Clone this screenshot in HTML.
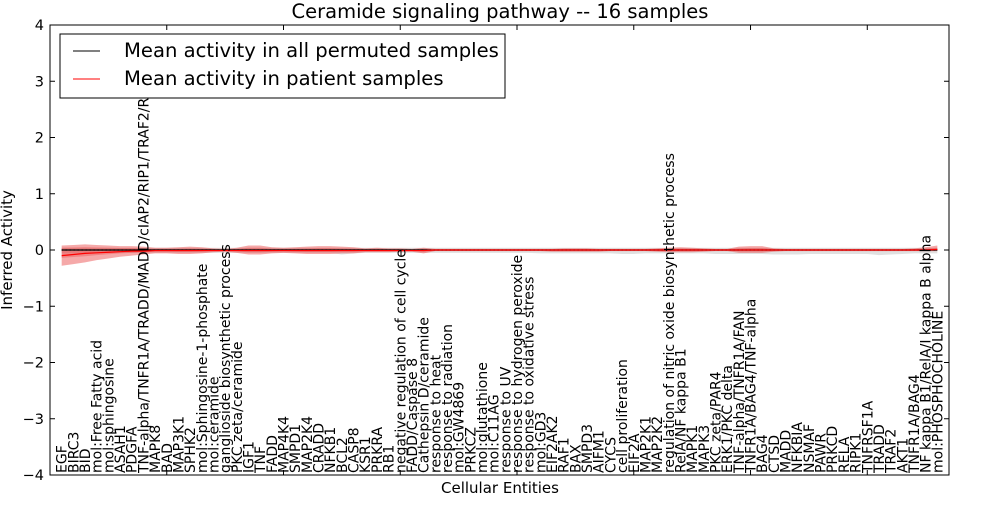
<!DOCTYPE html>
<html><head><meta charset="utf-8"><style>
body{margin:0;background:#fff;}
svg text{font-family:"DejaVu Sans","Liberation Sans",sans-serif;}
</style></head><body>
<svg id="chart" width="1000" height="500" xmlns="http://www.w3.org/2000/svg"></svg>
<script>
const categories=["EGF","BIRC3","BID","mol:Free Fatty acid","mol:sphingosine","ASAH1","PDGFA","TNF-alpha/TNFR1A/TRADD/MADD/cIAP2/RIP1/TRAF2/R","MAPK8","BAD","MAP3K1","SPHK2","mol:Sphingosine-1-phosphate","mol:ceramide","ganglioside biosynthetic process","PKC zeta/ceramide","IGF1","TNF","FADD","MAP4K4","SMPD1","MAP2K4","CRADD","NFKB1","BCL2","CASP8","KSR1","PRKRA","RB1","negative regulation of cell cycle","FADD/Caspase 8","Cathepsin D/ceramide","response to heat","response to radiation","mol:GW4869","PRKCZ","mol:glutathione","mol:C11AG","response to UV","response to hydrogen peroxide","response to oxidative stress","mol:GD3","EIF2AK2","RAF1","BAX","SMPD3","AIFM1","CYCS","cell proliferation","EIF2A","MAP2K1","MAP2K2","regulation of nitric oxide biosynthetic process","RelA/NF kappa B1","MAPK1","MAPK3","PKC zeta/PAR4","ERK1/PKC delta","TNF-alpha/TNFR1A/FAN","TNFR1A/BAG4/TNF-alpha","BAG4","CTSD","MADD","NFKBIA","NSMAF","PAWR","PRKCD","RELA","RIPK1","TNFRSF1A","TRADD","TRAF2","AKT1","TNFR1A/BAG4","NF kappa B1/RelA/I kappa B alpha","mol:PHOSPHOCHOLINE"];
const patientMean=[-0.1,-0.08,-0.06,-0.05,-0.04,-0.03,-0.02,-0.02,-0.01,-0.01,-0.01,-0.01,-0.01,-0.01,-0.01,-0.01,-0.01,-0.01,-0.01,-0.01,-0.01,-0.01,-0.01,-0.01,-0.01,-0.01,-0.01,-0.01,-0.01,-0.01,-0.01,-0.01,0,0,0,0,0,0,0,0,0,0,0,0,0,0,0,0,0,0,0,0,0,0,0,0,0,0,0,0,0,0,0,0,0,0,0,0,0,0,0,0,0,0,0,0.01];
const permMean=new Array(76).fill(0);
const redUpper=[0.08,0.09,0.1,0.09,0.08,0.07,0.07,0.06,0.04,0.04,0.05,0.06,0.05,0.03,0.02,0.04,0.08,0.08,0.05,0.04,0.05,0.06,0.07,0.07,0.06,0.05,0.03,0.04,0.03,0.03,0.02,0.04,0.02,0.02,0.02,0.02,0.02,0.02,0.02,0.02,0.02,0.02,0.02,0.03,0.03,0.03,0.02,0.02,0.02,0.02,0.02,0.03,0.04,0.05,0.04,0.03,0.02,0.02,0.06,0.07,0.07,0.03,0.02,0.02,0.02,0.02,0.02,0.02,0.02,0.02,0.02,0.02,0.02,0.03,0.05,0.08];
const redLower=[-0.28,-0.25,-0.22,-0.18,-0.15,-0.12,-0.1,-0.08,-0.06,-0.06,-0.07,-0.07,-0.06,-0.04,-0.03,-0.05,-0.08,-0.08,-0.06,-0.05,-0.06,-0.07,-0.07,-0.07,-0.06,-0.06,-0.04,-0.04,-0.04,-0.03,-0.03,-0.06,-0.02,-0.02,-0.02,-0.02,-0.02,-0.02,-0.02,-0.02,-0.02,-0.02,-0.03,-0.03,-0.03,-0.03,-0.03,-0.02,-0.02,-0.02,-0.02,-0.03,-0.04,-0.04,-0.04,-0.03,-0.02,-0.02,-0.05,-0.05,-0.05,-0.03,-0.02,-0.02,-0.02,-0.02,-0.02,-0.02,-0.02,-0.02,-0.02,-0.02,-0.02,-0.02,-0.02,-0.02];
const greyUpper=new Array(76).fill(0.04);
const greyLower=[-0.05,-0.05,-0.05,-0.05,-0.05,-0.05,-0.05,-0.05,-0.05,-0.05,-0.05,-0.05,-0.05,-0.05,-0.05,-0.05,-0.05,-0.05,-0.05,-0.05,-0.05,-0.05,-0.05,-0.05,-0.08,-0.06,-0.05,-0.05,-0.05,-0.05,-0.05,-0.05,-0.05,-0.05,-0.05,-0.05,-0.05,-0.05,-0.05,-0.05,-0.05,-0.06,-0.06,-0.06,-0.06,-0.06,-0.06,-0.06,-0.07,-0.07,-0.06,-0.06,-0.06,-0.06,-0.06,-0.06,-0.07,-0.07,-0.07,-0.07,-0.07,-0.08,-0.08,-0.08,-0.07,-0.07,-0.07,-0.07,-0.07,-0.07,-0.09,-0.08,-0.07,-0.06,-0.06,-0.06];
const yTicks=[-4,-3,-2,-1,0,1,2,3,4];
const xTicks=[0,10,20,30,40,50,60,70];

const NS="http://www.w3.org/2000/svg";
const svg=document.getElementById('chart');
const L=50,R=949,T=25,B=475,XMAX=77;
const xs=v=>L+(v/XMAX)*(R-L);
const ys=v=>T+(4-v)/8*(B-T);
function mk(tag,attrs,parent){const e=document.createElementNS(NS,tag);for(const k in attrs)e.setAttribute(k,attrs[k]);(parent||svg).appendChild(e);return e;}
function band(up,lo,fill,op,name){
  let d='';up.forEach((v,i)=>{d+=(i?'L':'M')+xs(i+1)+','+ys(v);});
  for(let i=lo.length-1;i>=0;i--)d+='L'+xs(i+1)+','+ys(lo[i]);
  const p=mk('path',{d:d+'Z',fill:fill,'fill-opacity':op,stroke:'none'});
  
  
}
function line(vals,color,name,dash){
  const d=vals.map((v,i)=>(i?'L':'M')+xs(i+1)+','+ys(v)).join('');
  const p=mk('path',{d:d,fill:'none',stroke:color,'stroke-width':1.2});
  if(dash)p.setAttribute('stroke-dasharray',dash);
  
  
}
band(greyUpper,greyLower,'#bbbbbb',0.45,'permuted-band');
band(redUpper,redLower,'#e84040',0.45,'patient-band');
band(redUpper.map(v=>v*0.5),redLower.map(v=>v*0.5),'#e84040',0.35,'patient-inner-band');
line(permMean,'#000','permuted-mean-line');
line(permMean,'#000','permuted-dots','1 3');
line(patientMean,'#f00','patient-mean-line');

const fr=mk('rect',{x:L,y:T,width:R-L,height:B-T,fill:'none',stroke:'#000','stroke-width':1});


yTicks.forEach(t=>{
  const y=ys(t);
  mk('line',{x1:L,y1:y,x2:L+5,y2:y,stroke:'#000'});
  mk('line',{x1:R,y1:y,x2:R-5,y2:y,stroke:'#000'});
  const tx=mk('text',{x:L-6,y:y+5,'text-anchor':'end','font-size':14.5});
  tx.textContent=(t<0?'\u2212'+(-t):t);
  
  
});
xTicks.forEach(t=>{
  const x=xs(t);
  mk('line',{x1:x,y1:T,x2:x,y2:T+5,stroke:'#000'});
  mk('line',{x1:x,y1:B,x2:x,y2:B-5,stroke:'#000'});
});
categories.forEach((c,i)=>{
  const x=xs(i+1)+5;
  const tx=mk('text',{x:x,y:473,'font-size':14,transform:'rotate(-90 '+x+' 473)'});
  tx.textContent=c;
  
  
});
const title=mk('text',{x:500,y:18,'text-anchor':'middle','font-size':19.5});
title.textContent='Ceramide signaling pathway -- 16 samples';


const xt=mk('text',{x:500,y:493,'text-anchor':'middle','font-size':15});
xt.textContent='Cellular Entities';


const yt=mk('text',{x:12,y:250,'text-anchor':'middle','font-size':15,transform:'rotate(-90 12 250)'});
yt.textContent='Inferred Activity';


const lg=mk('g',{});


mk('rect',{x:60,y:34,width:445,height:64,fill:'#fff',stroke:'#000'},lg);
mk('line',{x1:73,y1:51,x2:100,y2:51,stroke:'#000','stroke-width':1},lg);
mk('line',{x1:73,y1:79,x2:100,y2:79,stroke:'#f00','stroke-width':1},lg);
const l1=mk('text',{x:124,y:57,'font-size':19.6},lg);l1.textContent='Mean activity in all permuted samples';


const l2=mk('text',{x:124,y:85,'font-size':19.6},lg);l2.textContent='Mean activity in patient samples';


</script>
</body></html>
